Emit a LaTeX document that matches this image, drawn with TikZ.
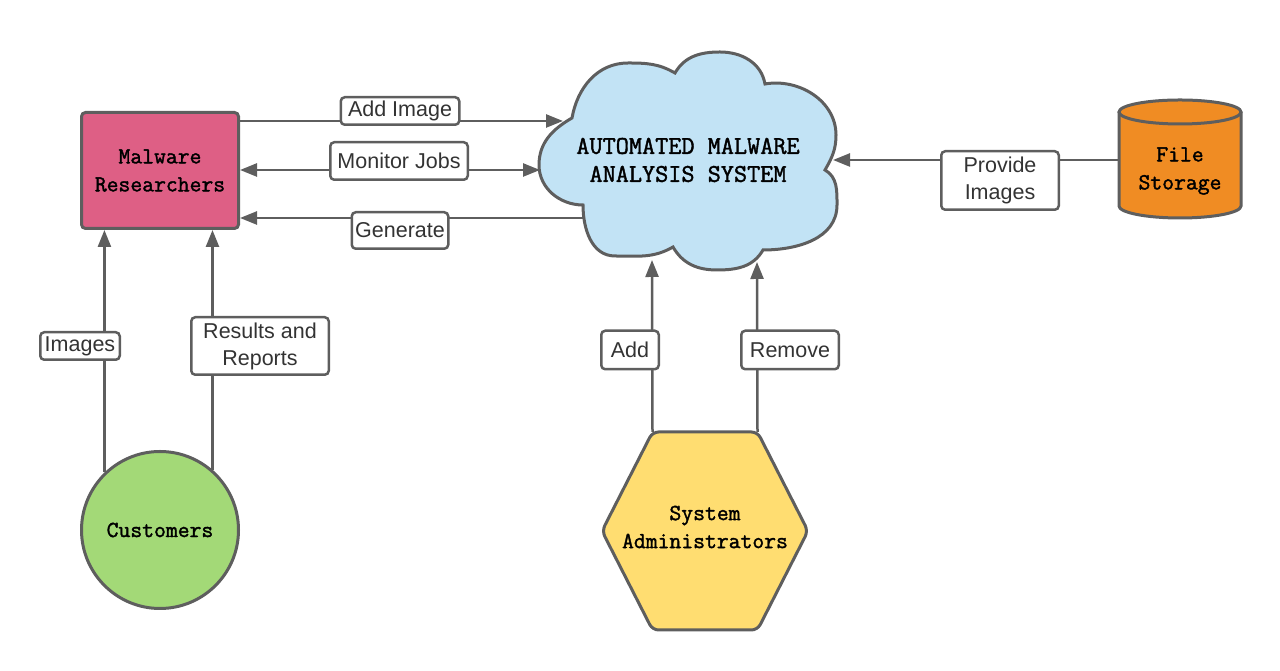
\documentclass[tikz,border=0pt]{standalone}
\usepackage{fontspec}
\setmainfont{Liberation Sans}
\newfontfamily\tw{Latin Modern Mono}[FakeBold=1.6]
\usetikzlibrary{arrows.meta,calc}
\definecolor{ln}{HTML}{5E5E5E}
\definecolor{pinkc}{HTML}{DE5F85}
\definecolor{cloudc}{HTML}{C2E3F5}
\definecolor{orangec}{HTML}{F08C23}
\definecolor{greenc}{HTML}{A3D977}
\definecolor{yellowc}{HTML}{FFDD71}
\definecolor{lbltext}{HTML}{333333}
\begin{document}
\begin{tikzpicture}[x=1pt,y=1pt,
  conn/.style={draw=ln,line width=2.5pt},
  arr/.style={conn,-{Triangle[length=17pt,width=13pt]}},
  dbl/.style={conn,{Triangle[length=17pt,width=13pt]}-{Triangle[length=17pt,width=13pt]}},
  lbl/.style={draw=ln,line width=2.5pt,fill=white,rounded corners=4pt,
    font=\fontsize{21.5}{27}\selectfont,text=lbltext,align=center,inner sep=0pt},
  shp/.style={draw=ln,line width=3pt},
  tt/.style={font=\tw\bfseries\fontsize{23}{28}\selectfont,align=center,text=black},
  ghost/.style={inner sep=0pt,outer sep=0pt}]
\useasboundingbox (0,0) rectangle (1280,671);

% ---------- Cloud ----------
\draw[shp,fill=cloudc]
  (572,553) to[out=80,in=180] (628,608) to[out=0,in=150] (675,598)
  to[out=60,in=180] (720,619) to[out=0,in=100] (765,587)
  to[out=10,in=90] (836,536) to[out=-90,in=60] (825,501)
  to[out=-30,in=90] (837,466) to[out=-90,in=0] (763,421)
  to[out=-120,in=0] (717,401) to[out=180,in=-60] (673,424)
  to[out=-150,in=0] (615,415) to[out=180,in=-90] (583,466)
  to[out=180,in=-90] (539,506) to[out=90,in=210] cycle;
\node[tt,font=\tw\bfseries\fontsize{25.5}{28}\selectfont] (sys) at (688,511)
  {AUTOMATED MALWARE\\ANALYSIS SYSTEM};
\coordinate (cAdd) at (563,550);
\coordinate (cMon) at (540,501);
\coordinate (cGen) at (583,453);
\coordinate (cProv) at (833,511);
\coordinate (cAddA) at (652,411);
\coordinate (cRem) at (757,409);

% ---------- Malware Researchers ----------
\node[shp,fill=pinkc,rounded corners=4pt,minimum width=157pt,minimum height=116pt,tt]
  (res) at (160,500.5) {Malware\\Researchers};

% ---------- Customers ----------
\node[shp,circle,fill=greenc,minimum size=157pt,inner sep=0pt,tt] (cust) at (160,141) {Customers};

% ---------- System Administrators ----------
\node[ghost,minimum width=206pt,minimum height=198pt] (admins) at (705,140) {};
\coordinate (hexTL) at ($(admins.north)+(-52.5,0)$);
\coordinate (hexTR) at ($(admins.north)+(52.5,0)$);
\coordinate (hexBL) at ($(admins.south)+(-52.5,0)$);
\coordinate (hexBR) at ($(admins.south)+(52.5,0)$);
\draw[shp,fill=yellowc,rounded corners=6pt]
  (admins.west) -- (hexTL) -- (hexTR) -- (admins.east) -- (hexBR) -- (hexBL) -- cycle;
\node[tt] (admtext) at (705,144) {System\\Administrators};

% ---------- File Storage ----------
\node[ghost,minimum width=122pt,minimum height=118pt] (storage) at (1180,512) {};
\coordinate (stTop) at ($(storage.north)+(0,-12)$);
\coordinate (stBot) at ($(storage.south)+(0,12)$);
\fill[orangec] (stTop -| storage.west) -- (stBot -| storage.west)
  arc[start angle=180,end angle=360,x radius=61,y radius=12] -- (stTop -| storage.east) -- cycle;
\fill[orangec] (stTop) ellipse[x radius=61,y radius=12];
\draw[shp] (stTop -| storage.west) -- (stBot -| storage.west)
  arc[start angle=180,end angle=360,x radius=61,y radius=12] -- (stTop -| storage.east);
\draw[shp] (stTop) ellipse[x radius=61,y radius=12];
\node[tt] (sttext) at (1180,500) {File\\Storage};

% ---------- Connectors ----------
\draw[arr] (res.east |- cAdd) -- (cAdd);
\draw[dbl] (res.east |- cMon) -- (cMon);
\draw[arr] (cGen) -- (cGen -| res.east);
\draw[arr] (storage.west |- cProv) -- (cProv);
\draw[arr] (cust.134.4) -- (cust.134.4 |- res.south);
\draw[arr] (cust.49.46) -- (cust.49.46 |- res.south);
\draw[arr] (hexTL) -- (cAddA);
\draw[arr] (hexTR) -- (cRem);

% ---------- Labels ----------
\node[lbl,minimum width=118.5pt,minimum height=27.5pt] (lAdd) at (400,560) {Add Image};
\node[lbl,minimum width=137.5pt,minimum height=37.5pt] (lMon) at (399,510) {Monitor Jobs};
\node[lbl,minimum width=96.5pt,minimum height=36.5pt] (lGen) at (400,440.5) {Generate};
\node[lbl,minimum width=117.5pt,minimum height=58.5pt] (lProv) at (1000,490.5) {Provide\\Images};
\node[lbl,minimum width=79.5pt,minimum height=27.5pt] (lImg) at (80,325) {Images};
\node[lbl,minimum width=137.5pt,minimum height=57.5pt] (lRes) at (260,325) {Results and\\Reports};
\node[lbl,minimum width=57.5pt,minimum height=38.5pt] (lAddA) at (630,321) {Add};
\node[lbl,minimum width=97.5pt,minimum height=38.5pt] (lRem) at (790,321) {Remove};
\end{tikzpicture}
\end{document}
